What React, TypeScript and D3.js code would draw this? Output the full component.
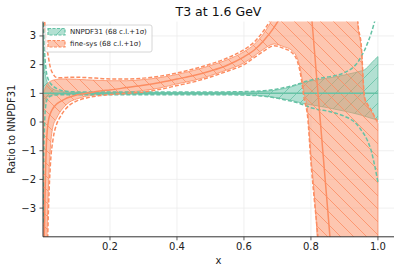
import * as d3 from "d3";

// sample points in x (dense near 0 and around the pole near 0.8)
const X = [
  0.0005, 0.002, 0.004, 0.006, 0.008, 0.01, 0.013, 0.017, 0.022, 0.03,
  0.04, 0.05, 0.065, 0.08, 0.1, 0.13, 0.17, 0.2, 0.25, 0.3,
  0.35, 0.4, 0.45, 0.5, 0.55, 0.6, 0.63, 0.66, 0.69, 0.72,
  0.74, 0.76, 0.77, 0.78, 0.79, 0.8, 0.81, 0.82, 0.83, 0.85,
  0.87, 0.9, 0.93, 0.94, 0.95, 0.96, 0.97, 0.98, 0.99, 1.0,
];

// NNPDF31 (reference, ratio = 1)
const nnpdfCentralX = [0.0005, 1.0];
const nnpdfCentral = [1, 1];
const nnpdfUp68 = [
  2.9, 2.4, 2.0, 1.75, 1.6, 1.48, 1.38, 1.3, 1.22, 1.15,
  1.1, 1.07, 1.05, 1.04, 1.035, 1.03, 1.03, 1.03, 1.03, 1.03,
  1.03, 1.03, 1.03, 1.03, 1.035, 1.04, 1.05, 1.07, 1.1, 1.17,
  1.22, 1.3, 1.33, 1.38, 1.41, 1.43, 1.45, 1.47, 1.49, 1.53,
  1.57, 1.64, 1.72, 1.75, 1.78, 1.82, 1.92, 2.05, 2.17, 2.28,
];
const nnpdfLo68 = [
  0.35, 0.45, 0.6, 0.72, 0.8, 0.85, 0.88, 0.91, 0.93, 0.95,
  0.96, 0.97, 0.97, 0.97, 0.97, 0.97, 0.97, 0.97, 0.97, 0.97,
  0.97, 0.97, 0.97, 0.97, 0.965, 0.955, 0.94, 0.91, 0.86, 0.8,
  0.76, 0.7, 0.67, 0.64, 0.62, 0.6, 0.58, 0.56, 0.54, 0.5,
  0.45, 0.38, 0.3, 0.27, 0.24, 0.2, 0.17, 0.13, 0.1, 0.07,
];
const nnpdfUp1s = [
  4.5, 3.3, 2.6, 2.2, 1.95, 1.75, 1.58, 1.45, 1.35, 1.25,
  1.17, 1.12, 1.08, 1.06, 1.05, 1.045, 1.045, 1.045, 1.045, 1.045,
  1.045, 1.045, 1.045, 1.045, 1.05, 1.06, 1.07, 1.09, 1.13, 1.2,
  1.25, 1.32, 1.35, 1.4, 1.43, 1.46, 1.49, 1.51, 1.53, 1.57,
  1.61, 1.72, 1.95, 2.08, 2.28, 2.5, 2.78, 3.1, 3.5, 4.0,
];
const nnpdfLo1s = [
  -3.5, -1.3, -0.3, 0.3, 0.55, 0.7, 0.8, 0.86, 0.9, 0.93,
  0.945, 0.95, 0.955, 0.955, 0.955, 0.955, 0.955, 0.955, 0.955, 0.955,
  0.955, 0.955, 0.955, 0.955, 0.95, 0.94, 0.925, 0.9, 0.85, 0.78,
  0.73, 0.67, 0.63, 0.59, 0.55, 0.5, 0.47, 0.44, 0.42, 0.38,
  0.32, 0.2, 0.0, -0.12, -0.28, -0.45, -0.68, -1.0, -1.5, -2.1,
];

// fine-sys
const fineCentral = [
  -9, -6.5, -4.2, -2.6, -1.5, -0.8, -0.25, 0.1, 0.3, 0.48,
  0.62, 0.7, 0.8, 0.87, 0.94, 1.0, 1.08, 1.12, 1.2, 1.28,
  1.38, 1.5, 1.62, 1.78, 1.98, 2.27, 2.5, 2.85, 3.3, 3.9,
  4.4, 4.9, 5.1, 5.0, 4.6, 3.9, 2.55, 1.15, -0.25, -3.05,
  -5.8, -9, -10, -10, -10, -10, -10, -10, -10, -10,
];
const fineUp68 = [
  0.9, 1.0, 1.1, 1.17, 1.23, 1.28, 1.33, 1.38, 1.42, 1.46,
  1.48, 1.5, 1.5, 1.5, 1.49, 1.47, 1.45, 1.44, 1.44, 1.48,
  1.55, 1.66, 1.8, 1.97, 2.17, 2.45, 2.7, 3.1, 3.7, 4.5,
  6, 6, 6, 6, 6, 6, 6, 6, 6, 6,
  6, 6, 6, 3.4, 2.6, 0.8, 0.55, 0.38, 0.15, -0.05,
];
const fineLo68 = [
  -12, -9, -7, -6, -5.5, -5, -3.5, -2.0, -0.9, -0.15,
  0.12, 0.33, 0.55, 0.7, 0.8, 0.9, 0.96, 1.0, 1.04, 1.1,
  1.19, 1.33, 1.45, 1.62, 1.82, 2.06, 2.3, 2.55, 2.72, 2.62,
  2.52, 2.2, 1.75, 1.0, 0.4, -1.2, -2.5, -4.3, -7, -10,
  -10, -10, -10, -10, -10, -10, -10, -10, -10, -10,
];
const fineUp1s = [
  6, 4.5, 3.7, 3.35, 3.05, 2.85, 2.5, 2.2, 1.9, 1.68,
  1.55, 1.54, 1.55, 1.56, 1.56, 1.55, 1.52, 1.5, 1.5, 1.53,
  1.6, 1.71, 1.85, 2.02, 2.23, 2.52, 2.78, 3.2, 3.8, 4.6,
  6, 6, 6, 6, 6, 6, 6, 6, 6, 6,
  6, 6, 6, 3.5, 2.7, 0.88, 0.6, 0.42, 0.2, 0.0,
];
const fineLo1s = [
  -12, -10, -9, -8, -7, -6, -4.5, -2.8, -1.5, -0.6,
  -0.1, 0.15, 0.42, 0.6, 0.73, 0.84, 0.92, 0.96, 1.0, 1.05,
  1.14, 1.27, 1.4, 1.57, 1.77, 2.0, 2.24, 2.48, 2.66, 2.56,
  2.45, 2.1, 1.6, 0.8, 0.2, -1.4, -2.7, -3.9, -5.5, -10,
  -10, -10, -10, -10, -10, -10, -10, -10, -10, -10,
];

const xTicks = [0.2, 0.4, 0.6, 0.8, 1.0];
const yTicks = [-3, -2, -1, 0, 1, 2, 3];
const legendLabels = ["NNPDF31 (68 c.l.+1σ)", "fine-sys (68 c.l.+1σ)"];

const GREEN = "#66c2a5";
const ORANGE = "#fc8d62";
const FONT = "DejaVu Sans";

const W = 401;
const H = 273;
const left = 43,
  right = 394,
  top = 21.6,
  bottom = 236.8;

export default function App() {
  const x = d3.scaleLinear().domain([0, 1.048]).range([left, right]);
  const y = d3.scaleLinear().domain([-4, 3.5]).range([bottom, top]);

  const band = (lo: number[], up: number[]) =>
    d3
      .area<number>()
      .x((d) => x(d))
      .y0((_, i) => y(lo[i]))
      .y1((_, i) => y(up[i]))
      .curve(d3.curveMonotoneX)(X) || "";

  const line = (vals: number[], xs: number[] = X) =>
    d3
      .line<number>()
      .x((d) => x(d))
      .y((_, i) => y(vals[i]))
      .curve(d3.curveMonotoneX)(xs) || "";

  const fmt = (v: number) => (v < 0 ? "\u2212" + Math.abs(v) : String(v));

  return (
    <div style={{ position: "absolute", left: 0, top: 0 }}>
      <svg width={W} height={H} fontFamily={FONT}>
        <defs>
          <clipPath id="plot">
            <rect x={left} y={top} width={right - left} height={bottom - top} />
          </clipPath>
          <pattern id="hatchG" patternUnits="userSpaceOnUse" width={13} height={13}>
            <path d="M0,13L13,0M-1,1L1,-1M12,14L14,12" stroke={GREEN} strokeWidth={0.8} />
          </pattern>
          <pattern id="hatchO" patternUnits="userSpaceOnUse" width={13} height={13}>
            <path d="M0,0L13,13M-1,12L1,14M12,-1L14,1" stroke={ORANGE} strokeWidth={0.8} />
          </pattern>
        </defs>

        {/* grid */}
        {xTicks.map((t) => (
          <line key={"gx" + t} x1={x(t)} x2={x(t)} y1={top} y2={bottom} stroke="#ececec" strokeWidth={0.8} />
        ))}
        {yTicks.map((t) => (
          <line key={"gy" + t} x1={left} x2={right} y1={y(t)} y2={y(t)} stroke="#ececec" strokeWidth={0.8} />
        ))}

        <g clipPath="url(#plot)">
          <path d={band(nnpdfLo68, nnpdfUp68)} fill={GREEN} fillOpacity={0.5} stroke={GREEN} strokeWidth={0.8} />
          <path d={band(nnpdfLo68, nnpdfUp68)} fill="url(#hatchG)" />
          <path d={band(fineLo68, fineUp68)} fill={ORANGE} fillOpacity={0.5} stroke={ORANGE} strokeWidth={0.8} />
          <path d={band(fineLo68, fineUp68)} fill="url(#hatchO)" />

          <path d={line(nnpdfUp1s)} fill="none" stroke={GREEN} strokeWidth={1.5} strokeDasharray="4,2" />
          <path d={line(nnpdfLo1s)} fill="none" stroke={GREEN} strokeWidth={1.5} strokeDasharray="4,2" />
          <path d={line(nnpdfCentral, nnpdfCentralX)} fill="none" stroke={GREEN} strokeWidth={1.5} />

          <path d={line(fineUp1s)} fill="none" stroke={ORANGE} strokeWidth={1.5} strokeDasharray="4,2" />
          <path d={line(fineLo1s)} fill="none" stroke={ORANGE} strokeWidth={1.5} strokeDasharray="4,2" />
          <path d={line(fineCentral)} fill="none" stroke={ORANGE} strokeWidth={1.5} />
        </g>

        {/* spines */}
        <line x1={left} x2={left} y1={top} y2={bottom} stroke="#333" strokeWidth={1} />
        <line x1={left} x2={right} y1={bottom} y2={bottom} stroke="#333" strokeWidth={1} />

        {/* ticks */}
        {yTicks.map((t) => (
          <g key={"ty" + t}>
            <line x1={left - 3.5} x2={left} y1={y(t)} y2={y(t)} stroke="#333" strokeWidth={0.8} />
            <text x={left - 7} y={y(t)} dy="0.35em" textAnchor="end" fontSize={10} fill="#222">
              {fmt(t)}
            </text>
          </g>
        ))}
        {xTicks.map((t) => (
          <g key={"tx" + t}>
            <line x1={x(t)} x2={x(t)} y1={bottom} y2={bottom + 3.5} stroke="#333" strokeWidth={0.8} />
            <text x={x(t)} y={250} textAnchor="middle" fontSize={10} fill="#222">
              {t.toFixed(1)}
            </text>
          </g>
        ))}

        {/* labels */}
        <text x={(left + right) / 2} y={16} textAnchor="middle" fontSize={12.5} fill="#111">
          T3 at 1.6 GeV
        </text>
        <text x={(left + right) / 2} y={263.5} textAnchor="middle" fontSize={10} fill="#222">
          x
        </text>
        <text
          transform={`translate(14.5,${(top + bottom) / 2}) rotate(-90)`}
          textAnchor="middle"
          fontSize={10}
          fill="#222"
        >
          Ratio to NNPDF31
        </text>

        {/* legend */}
        <rect x={45} y={25} width={107} height={27} rx={2} fill="#fff" fillOpacity={0.8} stroke="#ccc" strokeWidth={0.8} />
        {legendLabels.map((lab, i) => {
          const c = i === 0 ? GREEN : ORANGE;
          const yy = 28.5 + i * 12;
          return (
            <g key={lab}>
              <rect x={48} y={yy} width={17} height={6.5} fill={c} fillOpacity={0.5} />
              <rect x={48} y={yy} width={17} height={6.5} fill={i === 0 ? "url(#hatchG)" : "url(#hatchO)"} />
              <rect x={48} y={yy} width={17} height={6.5} fill="none" stroke={c} strokeWidth={1.2} strokeDasharray="3,1.5" />
              <text x={70} y={yy + 5.7} fontSize={7} fill="#222">
                {lab}
              </text>
            </g>
          );
        })}
      </svg>
    </div>
  );
}
